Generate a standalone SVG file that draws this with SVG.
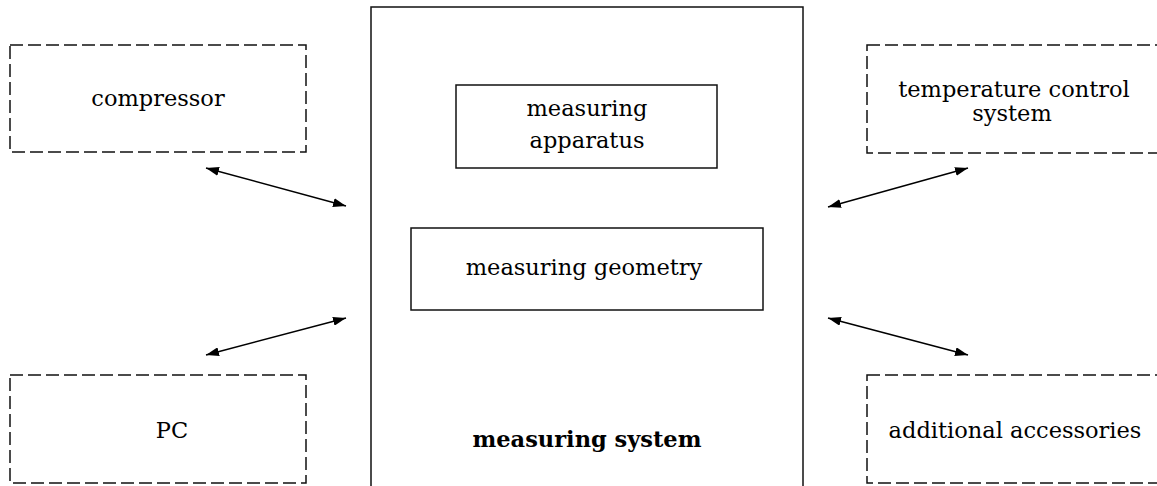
<svg xmlns="http://www.w3.org/2000/svg" width="1157" height="486" viewBox="0 0 1157 486">
<style>
.dash{fill:none;stroke:#111;stroke-width:1.5;stroke-dasharray:13 5}
.solid{fill:none;stroke:#111;stroke-width:1.5}
text{font-family:"DejaVu Serif","Liberation Serif",serif;font-size:22.5px;fill:#000;text-anchor:middle}
.b{font-weight:bold}
.conn line{stroke:#000;stroke-width:1.5;marker-start:url(#ah);marker-end:url(#ah)}
</style>
<defs>
<marker id="ah" viewBox="0 0 10 10" refX="10" refY="5" markerWidth="13" markerHeight="9" markerUnits="userSpaceOnUse" orient="auto-start-reverse" preserveAspectRatio="none">
<path d="M0,0 L10,5 L0,10 z" fill="#000"/>
</marker>
</defs>
<g id="system">
<rect class="solid" x="371" y="7" width="432" height="490"/>
<text class="b" x="587" y="447">measuring system</text>
</g>
<g id="apparatus">
<rect class="solid" x="456" y="85" width="261" height="83"/>
<text x="587" y="116">measuring</text>
<text x="587" y="148">apparatus</text>
</g>
<g id="geometry">
<rect class="solid" x="411" y="228" width="352" height="82"/>
<text x="584" y="275">measuring geometry</text>
</g>
<g id="compressor">
<rect class="dash" x="10" y="45" width="296" height="107"/>
<text x="158" y="106">compressor</text>
</g>
<g id="pc">
<rect class="dash" x="10" y="375" width="296" height="108"/>
<text x="172" y="438">PC</text>
</g>
<g id="temperature">
<rect class="dash" x="867" y="45" width="300" height="108"/>
<text x="1014" y="97">temperature control</text>
<text x="1012" y="121">system</text>
</g>
<g id="accessories">
<rect class="dash" x="867" y="375" width="300" height="108"/>
<text x="1015" y="438">additional accessories</text>
</g>
<g id="connectors" class="conn">
<line x1="206" y1="168" x2="346" y2="206"/>
<line x1="206" y1="355" x2="346" y2="318"/>
<line x1="968" y1="168" x2="828" y2="207"/>
<line x1="968" y1="355" x2="828" y2="318"/>
</g>
</svg>
